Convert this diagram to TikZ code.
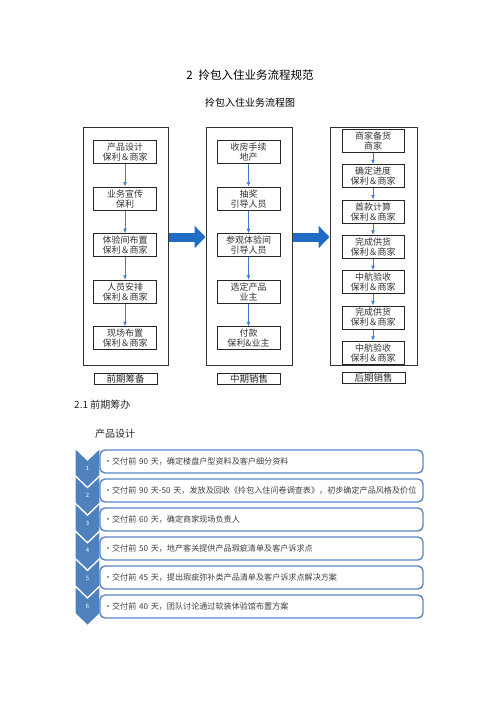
\documentclass[tikz,border=0pt]{standalone}
\usepackage{fontspec}
\setmainfont{Noto Sans CJK SC}
\usetikzlibrary{arrows.meta,positioning,calc}
\definecolor{deepblue}{HTML}{1F6CC4}
\definecolor{lineblue}{HTML}{3B7DD3}
\definecolor{chevblue}{HTML}{4F81BD}
\definecolor{rowline}{HTML}{5A86C4}
\tikzset{frame/.style={draw=black!80,line width=1pt,minimum height=238pt,inner sep=0pt},
stepbox/.style={draw=black!85,line width=1pt,fill=white,minimum width=63pt,minimum height=23pt,inner sep=0.5pt,align=center,font=\fontsize{9}{10}\selectfont,text=black!80},
tag/.style={draw=black!85,line width=1pt,minimum width=63pt,minimum height=11pt,inner sep=0pt,font=\fontsize{9.5}{10}\selectfont,text=black!85},
bigarr/.style={-{Triangle[width=22pt,length=11pt]},line width=9pt,draw=deepblue},
smallarr/.style={-{Latex[length=1.6mm,width=1.3mm]},draw=lineblue,line width=0.6pt},
chev/.style={fill=chevblue,draw=white,line width=1.2pt},
num/.style={text=white,font=\fontsize{6}{6}\selectfont,inner sep=0pt},
row/.style={draw=rowline,line width=1.4pt,fill=white,rounded corners=5pt,minimum width=323pt,minimum height=23pt,text width=315pt,align=left,inner xsep=4pt,font=\fontsize{8.1}{9}\selectfont,text=black!75},
sect/.style={font=\fontsize{10}{12}\selectfont,text=black!85,inner sep=0pt}}

\begin{document}
\begin{tikzpicture}[x=1pt,y=-1pt]
\useasboundingbox (0,0) rectangle (500,707);
\node[font=\fontsize{11.5}{13}\selectfont] (title) at (250,75) {2\hspace{0.5em}拎包入住业务流程规范};
\node[font=\fontsize{10}{12}\selectfont] (sub) at (250,103) {拎包入住业务流程图};

% three stages
\node[frame,minimum width=85pt] (pre) at (125.5,246) {};
\node[frame,minimum width=86pt] (mid) at (249,246) {};
\node[frame,minimum width=87pt] (post) at (373.5,246) {};
\node[tag,below=7pt of pre] (preT) {前期筹备};
\node[tag,below=7pt of mid] (midT) {中期销售};
\node[tag,below=6pt of post] (postT) {后期销售};
\draw[bigarr] ([yshift=9pt]pre.east) -- ([yshift=9pt]mid.west);
\draw[bigarr] ([yshift=9pt]mid.east) -- ([yshift=9pt]post.west);

\node[stepbox] (p1) at (125,152) {产品设计\\保利＆商家};
\node[stepbox,below=46.6pt of p1.center,anchor=center] (p2) {业务宣传\\保利};
\node[stepbox,below=46.6pt of p2.center,anchor=center] (p3) {体验间布置\\保利＆商家};
\node[stepbox,below=46.6pt of p3.center,anchor=center] (p4) {人员安排\\保利＆商家};
\node[stepbox,below=46.6pt of p4.center,anchor=center] (p5) {现场布置\\保利＆商家};
\draw[smallarr] (p1) -- (p2);
\draw[smallarr] (p2) -- (p3);
\draw[smallarr] (p3) -- (p4);
\draw[smallarr] (p4) -- (p5);

\node[stepbox] (m1) at (248.5,152) {收房手续\\地产};
\node[stepbox,below=46.6pt of m1.center,anchor=center] (m2) {抽奖\\引导人员};
\node[stepbox,below=46.6pt of m2.center,anchor=center] (m3) {参观体验间\\引导人员};
\node[stepbox,below=46.6pt of m3.center,anchor=center] (m4) {选定产品\\业主};
\node[stepbox,below=46.6pt of m4.center,anchor=center] (m5) {付款\\保利\&业主};
\draw[smallarr] (m1) -- (m2);
\draw[smallarr] (m2) -- (m3);
\draw[smallarr] (m3) -- (m4);
\draw[smallarr] (m4) -- (m5);

\node[stepbox,minimum width=62pt] (q1) at (373,141) {商家备货\\商家};
\node[stepbox,minimum width=62pt,below=35.3pt of q1.center,anchor=center] (q2) {确定进度\\保利＆商家};
\node[stepbox,minimum width=62pt,below=35.3pt of q2.center,anchor=center] (q3) {首款计算\\保利＆商家};
\node[stepbox,minimum width=62pt,below=35.3pt of q3.center,anchor=center] (q4) {完成供货\\保利＆商家};
\node[stepbox,minimum width=62pt,below=35.3pt of q4.center,anchor=center] (q5) {中航验收\\保利＆商家};
\node[stepbox,minimum width=62pt,below=35.3pt of q5.center,anchor=center] (q6) {完成供货\\保利＆商家};
\node[stepbox,minimum width=62pt,below=35.3pt of q6.center,anchor=center] (q7) {中航验收\\保利＆商家};
\draw[smallarr] (q1) -- (q2);
\draw[smallarr] (q2) -- (q3);
\draw[smallarr] (q3) -- (q4);
\draw[smallarr] (q4) -- (q5);
\draw[smallarr] (q5) -- (q6);
\draw[smallarr] (q6) -- (q7);

% 2.1 list
\node[sect,anchor=west] (s21) at (74,405) {2.1 前期筹办};
\node[sect,anchor=west] (s211) at (95,434) {产品设计};
\filldraw[chev] (75,448) -- ++(12.5,12) -- ++(12.5,-12) -- ++(0,27.6) -- ++(-12.5,12) -- ++(-12.5,-12) -- cycle;
\filldraw[chev] (75,475.6) -- ++(12.5,12) -- ++(12.5,-12) -- ++(0,27.6) -- ++(-12.5,12) -- ++(-12.5,-12) -- cycle;
\filldraw[chev] (75,503.2) -- ++(12.5,12) -- ++(12.5,-12) -- ++(0,27.6) -- ++(-12.5,12) -- ++(-12.5,-12) -- cycle;
\filldraw[chev] (75,530.8) -- ++(12.5,12) -- ++(12.5,-12) -- ++(0,27.6) -- ++(-12.5,12) -- ++(-12.5,-12) -- cycle;
\filldraw[chev] (75,558.4) -- ++(12.5,12) -- ++(12.5,-12) -- ++(0,27.6) -- ++(-12.5,12) -- ++(-12.5,-12) -- cycle;
\filldraw[chev] (75,586) -- ++(12.5,12) -- ++(12.5,-12) -- ++(0,27.6) -- ++(-12.5,12) -- ++(-12.5,-12) -- cycle;
\node[num] (n1) at (87.5,468) {1};
\node[num] (n2) at (87.5,495.6) {2};
\node[num] (n3) at (87.5,523.2) {3};
\node[num] (n4) at (87.5,550.8) {4};
\node[num] (n5) at (87.5,578.4) {5};
\node[num] (n6) at (87.5,606) {6};
\node[row] (r1) at (261.5,461.5) {•交付前 90 天，确定楼盘户型资料及客户细分资料};
\node[row,below=4.6pt of r1] (r2) {•交付前 90 天-50 天，发放及回收《拎包入住问卷调查表》，初步确定产品风格及价位};
\node[row,below=4.6pt of r2] (r3) {•交付前 60 天，确定商家现场负责人};
\node[row,below=4.6pt of r3] (r4) {•交付前 50 天，地产客关提供产品瑕疵清单及客户诉求点};
\node[row,below=4.6pt of r4] (r5) {•交付前 45 天，提出瑕疵弥补类产品清单及客户诉求点解决方案};
\node[row,below=4.6pt of r5] (r6) {•交付前 40 天，团队讨论通过软装体验馆布置方案};
\end{tikzpicture}
\end{document}
